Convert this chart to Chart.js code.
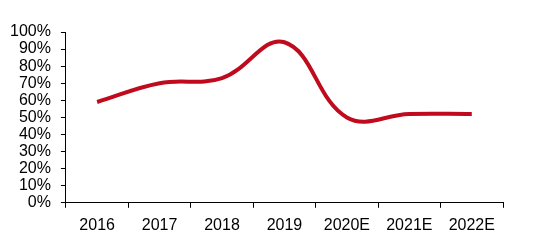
<!DOCTYPE html>
<html>
<head>
<meta charset="utf-8">
<script src="https://cdn.jsdelivr.net/npm/chart.js@4"></script>
<style>
  html, body { margin: 0; padding: 0; background: #fff; }
  #wrap { width: 559px; height: 247px; }
</style>
</head>
<body>
<div id="wrap"><canvas id="c"></canvas></div>
<script>
const years = ["2016", "2017", "2018", "2019", "2020E", "2021E", "2022E"];
const ratio = [59, 70, 73, 94, 50, 52, 52];
const yTicks = [0, 10, 20, 30, 40, 50, 60, 70, 80, 90, 100];

Chart.defaults.font.family = "'Liberation Sans', Arial, sans-serif";
Chart.defaults.font.size = 16;
Chart.defaults.color = "#000";

new Chart(document.getElementById("c"), {
  type: "line",
  data: {
    labels: years,
    datasets: [{
      data: ratio,
      borderColor: "#C00A1E",
      borderWidth: 4,
      pointRadius: 0,
      tension: 0.4,
      fill: false
    }]
  },
  options: {
    responsive: true,
    maintainAspectRatio: false,
    animation: false,
    layout: { padding: { left: 0, right: 56, top: 32, bottom: 4 } },
    plugins: { legend: { display: false }, tooltip: { enabled: false } },
    scales: {
      x: {
        offset: true,
        border: { color: "#000", width: 1 },
        grid: { offset: true, drawOnChartArea: false, tickLength: 5, color: "#000" },
        ticks: { padding: 8, autoSkip: false, maxRotation: 0 }
      },
      y: {
        min: 0,
        max: 100,
        afterBuildTicks: (axis) => { axis.ticks = yTicks.map(v => ({ value: v })); },
        border: { color: "#000", width: 1 },
        grid: { drawOnChartArea: false, tickLength: 5, color: "#000" },
        ticks: { callback: (v) => v + "%", padding: 10, autoSkip: false }
      }
    }
  }
});
</script>
</body>
</html>
